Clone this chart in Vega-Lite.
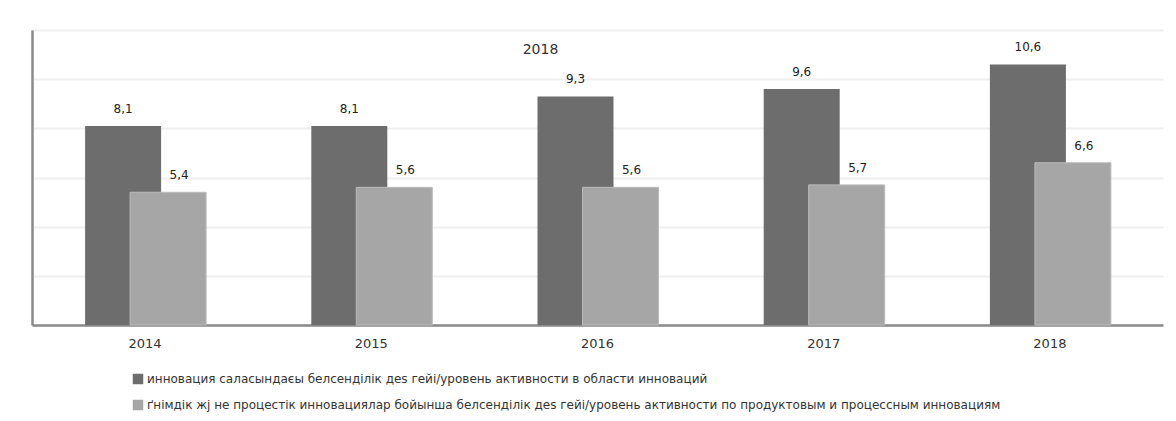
{
  "$schema": "https://vega.github.io/schema/vega-lite/v6.json",
  "width": 1131,
  "height": 295,
  "autosize": "none",
  "padding": {"left": 32, "top": 30, "right": 13, "bottom": 96},
  "background": "white",
  "title": {"text": "2018", "anchor": "middle", "frame": "group", "dx": -57, "offset": -34, "baseline": "middle", "fontSize": 14, "font": "DejaVu Sans", "fontWeight": "normal", "color": "#333333"},
  "data": {"values": [
    {"year": "2014", "series": "инновация саласындаєы  белсенділік дes гейі/уровень активности в области инноваций", "s": 1, "value": 8.1},
    {"year": "2015", "series": "инновация саласындаєы  белсенділік дes гейі/уровень активности в области инноваций", "s": 1, "value": 8.1},
    {"year": "2016", "series": "инновация саласындаєы  белсенділік дes гейі/уровень активности в области инноваций", "s": 1, "value": 9.3},
    {"year": "2017", "series": "инновация саласындаєы  белсенділік дes гейі/уровень активности в области инноваций", "s": 1, "value": 9.6},
    {"year": "2018", "series": "инновация саласындаєы  белсенділік дes гейі/уровень активности в области инноваций", "s": 1, "value": 10.6},
    {"year": "2014", "series": "ґнімдік жј не процестік инновациялар бойынша белсенділік дes гейі/уровень активности по продуктовым и процессным инновациям", "s": 2, "value": 5.4},
    {"year": "2015", "series": "ґнімдік жј не процестік инновациялар бойынша белсенділік дes гейі/уровень активности по продуктовым и процессным инновациям", "s": 2, "value": 5.6},
    {"year": "2016", "series": "ґнімдік жј не процестік инновациялар бойынша белсенділік дes гейі/уровень активности по продуктовым и процессным инновациям", "s": 2, "value": 5.6},
    {"year": "2017", "series": "ґнімдік жј не процестік инновациялар бойынша белсенділік дes гейі/уровень активности по продуктовым и процессным инновациям", "s": 2, "value": 5.7},
    {"year": "2018", "series": "ґнімдік жј не процестік инновациялар бойынша белсенділік дes гейі/уровень активности по продуктовым и процессным инновациям", "s": 2, "value": 6.6}
  ]},
  "encoding": {
    "x": {"field": "year", "type": "nominal", "scale": {"paddingInner": 0, "paddingOuter": 0},
      "axis": {"title": null, "labelAngle": 0, "ticks": false, "labelPadding": 12, "labelFontSize": 13, "labelFont": "DejaVu Sans", "labelColor": "#333333", "domainColor": "#8a8a8a", "domainWidth": 2.5, "grid": false}},
    "y": {"field": "value", "type": "quantitative", "scale": {"domain": [0, 12], "nice": false},
      "axis": {"title": null, "labels": false, "ticks": false, "values": [0, 2, 4, 6, 8, 10, 12], "grid": true, "gridColor": "#efefef", "gridWidth": 2, "domainColor": "#8a8a8a", "domainWidth": 2.5}},
    "color": {"field": "series", "type": "nominal",
      "scale": {"domain": ["инновация саласындаєы  белсенділік дes гейі/уровень активности в области инноваций", "ґнімдік жј не процестік инновациялар бойынша белсенділік дes гейі/уровень активности по продуктовым и процессным инновациям"], "range": ["#6d6d6d", "#a6a6a6"]},
      "legend": {"title": null, "orient": "none", "legendX": 100, "legendY": 343, "direction": "vertical", "symbolType": "square", "symbolSize": 110, "symbolStrokeWidth": 0, "labelFontSize": 12, "labelFont": "DejaVu Sans", "labelColor": "#333333", "labelLimit": 0, "labelOffset": 3, "rowPadding": 14}}
  },
  "layer": [
    {"transform": [{"filter": "datum.s == 1"}], "mark": {"type": "bar", "width": 76, "xOffset": -22}},
    {"transform": [{"filter": "datum.s == 2"}], "mark": {"type": "bar", "width": 76, "xOffset": 23, "stroke": "#bcbcbc", "strokeWidth": 1}},
    {"transform": [{"filter": "datum.s == 1"}], "mark": {"type": "text", "xOffset": -22, "dy": -17, "baseline": "middle", "fontSize": 12, "font": "DejaVu Sans", "color": "#222222"},
      "encoding": {"text": {"field": "value", "type": "quantitative", "format": ".1f"}, "color": {"value": "#222222"}}},
    {"transform": [{"filter": "datum.s == 2"}], "mark": {"type": "text", "xOffset": 34, "dy": -17, "baseline": "middle", "fontSize": 12, "font": "DejaVu Sans", "color": "#222222"},
      "encoding": {"text": {"field": "value", "type": "quantitative", "format": ".1f"}, "color": {"value": "#222222"}}}
  ],
  "config": {
    "view": {"stroke": null},
    "locale": {"number": {"decimal": ",", "thousands": " ", "grouping": [3], "currency": ["", ""]}}
  }
}
